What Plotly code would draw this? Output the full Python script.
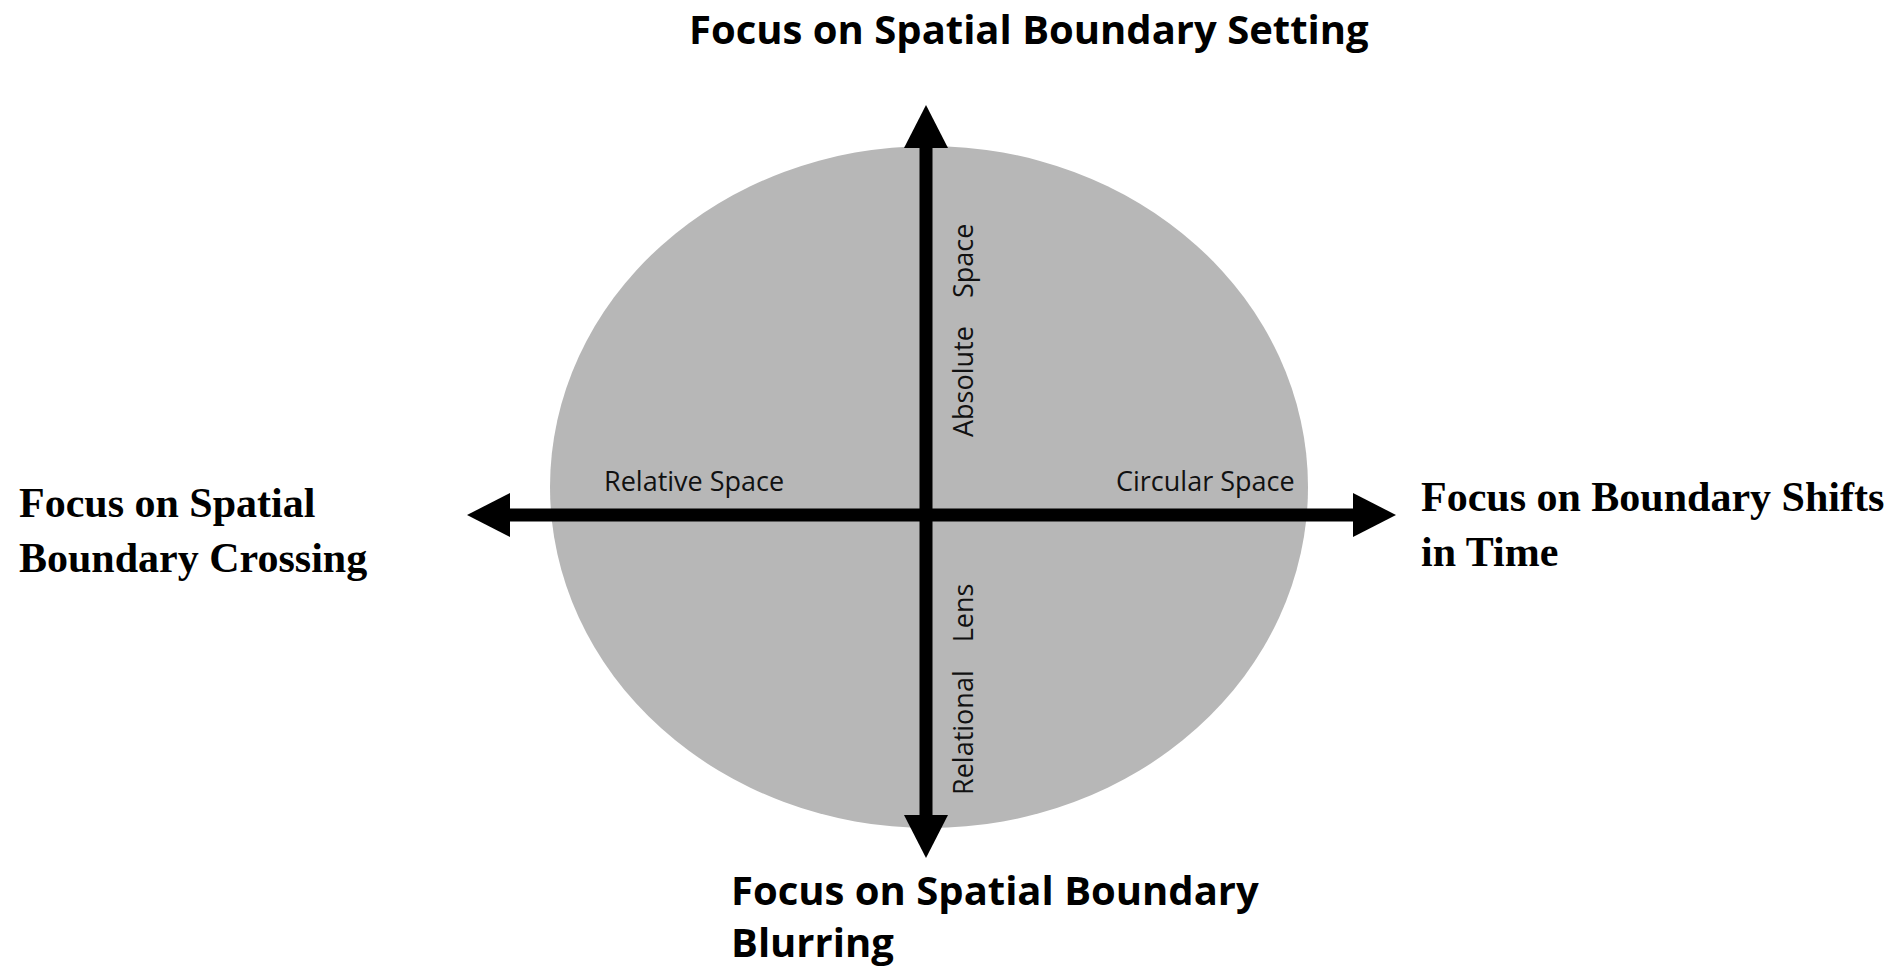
import plotly.graph_objects as go

# ---- content ----
pole_labels = ["Focus on Spatial Boundary Setting",
               "Focus on Spatial<br>Boundary Crossing",
               "Focus on Boundary Shifts<br>in Time",
               "Focus on Spatial Boundary<br>Blurring"]
inner_h_labels = ["Relative Space", "Circular Space"]
inner_v_labels = ["Absolute\u00a0\u00a0\u00a0\u00a0Space", "Relational\u00a0\u00a0\u00a0\u00a0Lens"]

# ---- geometry (pixel space) ----
W, H = 1895, 968
CX, CY = 926, 515            # crossing point of the arrows
TOP, BOTTOM = 105, 858       # vertical arrow tips
LEFT, RIGHT = 467, 1396      # horizontal arrow tips
HEAD_L, HEAD_W = 43, 44      # arrowhead length / width
LW = 13                      # shaft width
ELL = dict(x0=550, x1=1308, y0=146, y1=828)
GREY = "#b7b7b7"

shapes = []
shapes.append(dict(type="circle", xref="x", yref="y", **ELL,
                   fillcolor=GREY, line=dict(width=0), layer="below"))
# shafts
shapes.append(dict(type="line", xref="x", yref="y", x0=CX, x1=CX,
                   y0=TOP + HEAD_L - 1, y1=BOTTOM - HEAD_L + 1,
                   line=dict(color="black", width=LW)))
shapes.append(dict(type="line", xref="x", yref="y", y0=CY, y1=CY,
                   x0=LEFT + HEAD_L - 1, x1=RIGHT - HEAD_L + 1,
                   line=dict(color="black", width=LW)))
hw = HEAD_W / 2
heads = [
    f"M {CX-hw},{TOP+HEAD_L} L {CX+hw},{TOP+HEAD_L} L {CX},{TOP} Z",
    f"M {CX-hw},{BOTTOM-HEAD_L} L {CX+hw},{BOTTOM-HEAD_L} L {CX},{BOTTOM} Z",
    f"M {LEFT+HEAD_L},{CY-hw} L {LEFT+HEAD_L},{CY+hw} L {LEFT},{CY} Z",
    f"M {RIGHT-HEAD_L},{CY-hw} L {RIGHT-HEAD_L},{CY+hw} L {RIGHT},{CY} Z",
]
for p in heads:
    shapes.append(dict(type="path", xref="x", yref="y", path=p,
                       fillcolor="black", line=dict(width=0)))

sans_bold = dict(family="Open Sans", size=40, color="black", weight="bold")
serif_bold = dict(family="Liberation Serif", size=42, color="black", weight="bold")
small = dict(family="Open Sans", size=27, color="#111111")

annotations = [
    dict(x=1029, y=0, text="<b>" + pole_labels[0] + "</b>", font=sans_bold,
         xanchor="center", yanchor="top", borderpad=0),
    dict(x=17, y=530, text="<b>" + pole_labels[1] + "</b>", font=serif_bold,
         xanchor="left", yanchor="middle", align="left"),
    dict(x=1419, y=524, text="<b>" + pole_labels[2] + "</b>", font=serif_bold,
         xanchor="left", yanchor="middle", align="left"),
    dict(x=729, y=915, text="<b>" + pole_labels[3] + "</b>", font=sans_bold,
         xanchor="left", yanchor="middle", align="left"),
    dict(x=694, y=480, text=inner_h_labels[0], font=small,
         xanchor="center", yanchor="middle"),
    dict(x=1205, y=480, text=inner_h_labels[1], font=small,
         xanchor="center", yanchor="middle"),
    dict(x=962, y=331, text=inner_v_labels[0], font=small, textangle=-90,
         xanchor="center", yanchor="middle"),
    dict(x=962, y=690, text=inner_v_labels[1], font=small, textangle=-90,
         xanchor="center", yanchor="middle"),
]
for a in annotations:
    a.update(xref="x", yref="y", showarrow=False)

fig = go.Figure()
fig.update_layout(
    width=W, height=H,
    margin=dict(l=0, r=0, t=0, b=0),
    paper_bgcolor="white", plot_bgcolor="white",
    xaxis=dict(range=[0, W], visible=False, fixedrange=True),
    yaxis=dict(range=[H, 0], visible=False, fixedrange=True),
    shapes=shapes, annotations=annotations,
    showlegend=False,
)
fig.write_html("out.html", config={"displayModeBar": False},
               post_script="document.body.style.margin='0';document.body.style.overflow='hidden';")
